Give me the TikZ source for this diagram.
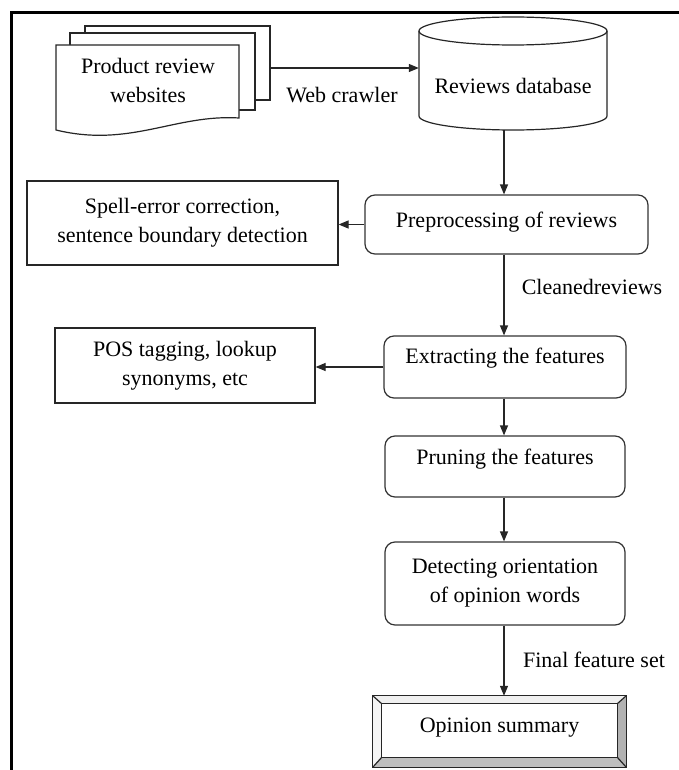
\documentclass[tikz,border=0pt]{standalone}
\usepackage{fontspec}
\setmainfont{Liberation Serif}
\usetikzlibrary{arrows.meta,calc}
\begin{document}
\begin{tikzpicture}[x=1pt,y=-1pt,
  every node/.style={font=\fontsize{22}{29}\selectfont, inner sep=0pt},
  conn/.style={draw=black!85, line width=1.2pt, -{Triangle[length=10pt,width=8pt]}},
  rbox/.style={draw=black!80, line width=1.2pt, rounded corners=10pt},
  sbox/.style={draw=black!85, line width=1.2pt, align=center},
  shape line/.style={draw=black!85, line width=1.2pt}]
\useasboundingbox (0,0) rectangle (678,770);
% frame
\draw[line width=3pt] (11,771) -- (11,13) -- (679,13);

% document stack
\draw[shape line, fill=white] (85,26) rectangle (270,100);
\draw[shape line, fill=white] (70,33) rectangle (255,110);
\draw[shape line, fill=white] (56,45) -- (239,45) -- (239,118)
   .. controls (175,114) and (130,148) .. (56,130) -- cycle;
\node[align=center] (doc) at (148,80) {Product review\\websites};
\coordinate (docR) at (270,68);

% database cylinder
\node[minimum width=188pt, minimum height=113pt] (db) at (513,73.5) {};
\draw[shape line, fill=white] (419,31) -- (419,116)
   arc[start angle=180, end angle=360, x radius=94pt, y radius=14pt] -- (607,31);
\draw[shape line] (513,31) ellipse [x radius=94pt, y radius=14pt];
\node (dbt) at (513,86) {Reviews database};

% column x
\coordinate (col) at (504,0);

% boxes
\node[rbox, minimum width=283pt, minimum height=59pt, text height=15pt, text depth=9pt] (pre) at (506.5,224.5) {Preprocessing of reviews};
\node[sbox, minimum width=311pt, minimum height=84pt] (spell) at (182.5,223) {Spell-error correction,\\sentence boundary detection};
\node[rbox, minimum width=242pt, minimum height=62pt, text height=15pt, text depth=23pt] (ext) at (505,367) {Extracting the features};
\node[sbox, minimum width=260pt, minimum height=75pt] (pos) at (185,365.5) {POS tagging, lookup\\synonyms, etc};
\node[rbox, minimum width=240pt, minimum height=61pt, text height=15pt, text depth=19pt] (prune) at (505,466.5) {Pruning the features};
\node[rbox, minimum width=240pt, minimum height=83pt, align=center] (det) at (505,583.5) {Detecting orientation\\of opinion words};

% opinion summary (bevelled frame)
\node[minimum width=253pt, minimum height=71pt, text depth=13pt, text height=15pt] (op) at (499.5,731.5) {Opinion summary};
\coordinate (o1) at (op.north west);
\coordinate (o2) at (op.north east);
\coordinate (o3) at (op.south east);
\coordinate (o4) at (op.south west);
\coordinate (i1) at ($(o1)+(9,8)$);
\coordinate (i2) at ($(o2)+(-9,8)$);
\coordinate (i3) at ($(o3)+(-9,-10)$);
\coordinate (i4) at ($(o4)+(9,-10)$);
\fill[gray!12] (o1) -- (o2) -- (i2) -- (i1) -- cycle;
\fill[gray!8] (o1) -- (i1) -- (i4) -- (o4) -- cycle;
\fill[gray!60] (o2) -- (o3) -- (i3) -- (i2) -- cycle;
\fill[gray!50] (o4) -- (o3) -- (i3) -- (i4) -- cycle;
\draw[shape line] (o1) -- (o2) -- (o3) -- (o4) -- cycle;
\draw[shape line] (i1) -- (i2) -- (i3) -- (i4) -- cycle;
\draw[shape line] (o1) -- (i1) (o2) -- (i2) (o3) -- (i3) (o4) -- (i4);

% connectors
\draw[conn] (docR) -- (docR -| db.west);
\node (wc) at (342,95) {Web crawler};
\draw[conn] (db.south -| col) -- (pre.north -| col);
\draw[conn] (pre.west) -- (pre.west -| spell.east);
\draw[conn] (pre.south -| col) -- (ext.north -| col);
\node (cr) at (592,287) {Cleanedreviews};
\draw[conn] (ext.west) -- (ext.west -| pos.east);
\draw[conn] (ext.south -| col) -- (prune.north -| col);
\draw[conn] (prune.south -| col) -- (det.north -| col);
\draw[conn] (det.south -| col) -- (op.north -| col);
\node (ffs) at (594,660) {Final feature set};
\end{tikzpicture}
\end{document}
